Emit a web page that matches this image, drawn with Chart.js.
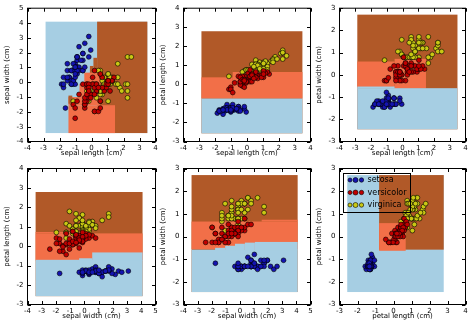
<!DOCTYPE html>
<html><head><meta charset="utf-8">
<script src="https://cdn.jsdelivr.net/npm/chart.js@4.4.0/dist/chart.umd.min.js"></script>
<style>
html,body{margin:0;padding:0;background:#fff;}
#wrap{position:relative;width:474px;height:326px;overflow:hidden;background:#fff;}
canvas{position:absolute;left:0;top:0;}
</style></head><body><div id="wrap"></div>
<script>
// ---- data (standardized iris measurements) ----
const classNames = ['setosa', 'versicolor', 'virginica'];
const featureNames = ['sepal length (cm)', 'sepal width (cm)', 'petal length (cm)', 'petal width (cm)'];

const setosaSL = [-0.90,-1.14,-1.39,-1.51,-1.02,-0.54,-1.51,-1.02,-1.75,-1.14,-0.54,-1.26,-1.26,-1.87,-0.05,-0.17,-0.54,-0.90,-0.17,-0.90,-0.54,-0.90,-1.51,-0.90,-1.26,-1.02,-1.02,-0.78,-0.78,-1.39,-1.26,-0.54,-0.78,-0.42,-1.14,-1.02,-0.42,-1.14,-1.75,-0.90,-1.02,-1.63,-1.75,-1.02,-0.90,-1.26,-0.90,-1.51,-0.66,-1.02];
const setosaSW = [1.02,-0.13,0.33,0.10,1.25,1.94,0.79,0.79,-0.36,0.10,1.48,0.79,-0.13,-0.13,2.17,3.09,1.94,1.02,1.71,1.71,0.79,1.48,1.25,0.56,0.79,-0.13,0.79,1.02,0.79,0.33,0.10,0.79,2.40,2.63,0.10,0.33,1.02,1.25,-0.13,0.79,1.02,-1.74,0.33,1.02,1.71,-0.13,1.71,0.33,1.48,0.56];
const setosaPL = [-1.34,-1.34,-1.40,-1.28,-1.34,-1.17,-1.34,-1.28,-1.34,-1.28,-1.28,-1.23,-1.34,-1.51,-1.45,-1.28,-1.40,-1.34,-1.17,-1.28,-1.17,-1.28,-1.57,-1.17,-1.06,-1.23,-1.23,-1.28,-1.34,-1.23,-1.23,-1.28,-1.28,-1.34,-1.28,-1.45,-1.40,-1.34,-1.40,-1.28,-1.40,-1.40,-1.40,-1.23,-1.06,-1.34,-1.23,-1.34,-1.28,-1.34];
const setosaPW = [-1.32,-1.32,-1.32,-1.32,-1.32,-1.05,-1.18,-1.32,-1.32,-1.45,-1.32,-1.32,-1.45,-1.45,-1.32,-1.05,-1.05,-1.18,-1.18,-1.18,-1.32,-1.05,-1.32,-0.92,-1.32,-1.32,-1.05,-1.32,-1.32,-1.32,-1.32,-1.05,-1.45,-1.32,-1.32,-1.32,-1.32,-1.45,-1.32,-1.32,-1.18,-1.18,-1.32,-0.79,-1.05,-1.18,-1.32,-1.32,-1.32,-1.32];

const versicolorSL = [1.40,0.67,1.28,-0.42,0.80,-0.17,0.55,-1.14,0.92,-0.78,-1.02,0.07,0.19,0.31,-0.29,1.04,-0.29,-0.05,0.43,-0.29,0.07,0.31,0.55,0.31,0.67,0.92,1.16,1.04,0.19,-0.17,-0.42,-0.42,-0.05,0.19,-0.54,0.19,1.04,0.55,-0.29,-0.42,-0.42,0.31,-0.05,-1.02,-0.29,-0.17,-0.17,0.43,-0.90,-0.17];
const versicolorSW = [0.33,0.33,0.10,-1.74,-0.59,-0.59,0.56,-1.51,-0.36,-0.82,-2.43,-0.13,-1.97,-0.36,-0.36,0.10,-0.13,-0.82,-1.97,-1.28,0.33,-0.59,-1.28,-0.59,-0.36,-0.13,-0.59,-0.13,-0.36,-1.05,-1.51,-1.51,-0.82,-0.82,-0.13,0.79,0.10,-1.74,-0.13,-1.28,-1.05,-0.13,-1.05,-1.74,-0.82,-0.13,-0.36,-0.36,-1.28,-0.59];
const versicolorPL = [0.54,0.42,0.65,0.14,0.48,0.42,0.54,-0.26,0.48,0.08,-0.15,0.25,0.14,0.54,-0.09,0.37,0.42,0.19,0.42,0.08,0.59,0.14,0.65,0.54,0.31,0.37,0.59,0.71,0.42,-0.15,0.02,-0.03,0.08,0.76,0.42,0.42,0.54,0.37,0.19,0.14,0.37,0.48,0.14,-0.26,0.25,0.25,0.25,0.31,-0.43,0.19];
const versicolorPW = [0.26,0.40,0.40,0.13,0.40,0.13,0.53,-0.26,0.13,0.26,-0.26,0.40,-0.26,0.26,0.13,0.26,0.40,-0.26,0.40,-0.13,0.79,0.13,0.40,0.00,0.13,0.26,0.26,0.66,0.40,-0.26,-0.13,-0.26,0.00,0.53,0.40,0.53,0.40,0.13,0.13,0.13,0.00,0.26,0.00,-0.26,0.13,0.00,0.13,0.13,-0.13,0.13];

const virginicaSL = [0.55,-0.05,1.52,0.55,0.80,2.13,-1.14,1.77,1.04,1.64,0.80,0.67,1.16,-0.17,-0.05,0.67,0.80,2.25,2.25,0.19,1.28,-0.29,2.25,0.55,1.04,1.64,0.43,0.31,0.67,1.64,1.89,2.49,0.67,0.55,0.31,2.25,0.55,0.67,0.19,1.28,1.04,1.28,-0.05,1.16,1.04,1.04,0.55,0.80,0.43,0.07];
const virginicaSW = [0.56,-0.82,-0.13,-0.36,-0.13,-0.13,-1.28,-0.36,-1.28,1.25,0.33,-0.82,-0.13,-1.28,-0.59,0.33,-0.13,1.71,-1.05,-1.97,0.33,-0.59,-0.59,-0.82,0.56,0.33,-0.59,-0.13,-0.59,-0.13,-0.59,1.71,-0.59,-0.59,-1.05,-0.13,0.79,0.10,-0.13,0.10,0.10,0.10,-0.82,0.33,0.56,-0.13,-1.28,-0.13,0.79,-0.13];
const virginicaPL = [1.27,0.76,1.22,1.05,1.16,1.62,0.42,1.45,1.16,1.33,0.76,0.88,0.99,0.71,0.76,0.88,0.99,1.67,1.79,0.71,1.10,0.65,1.67,0.65,1.10,1.27,0.59,0.65,1.05,1.16,1.33,1.50,1.05,0.76,1.05,1.33,1.05,0.99,0.59,0.93,1.05,0.76,0.76,1.22,1.10,0.82,0.71,0.82,0.93,0.76];
const virginicaPW = [1.71,0.92,1.19,0.79,1.32,1.19,0.66,0.79,0.79,1.71,1.05,0.92,1.19,1.05,1.58,1.45,0.79,1.32,1.45,0.40,1.45,1.05,1.05,0.79,1.19,0.79,0.79,0.79,1.19,0.53,0.92,1.05,1.32,0.40,0.26,1.45,1.58,0.79,0.79,1.19,1.58,1.45,0.92,1.45,1.71,1.45,0.92,1.05,1.45,0.79];

// feature pairs shown in the six panels (x feature, y feature)
const featurePairs = [[0,1],[0,2],[0,3],[1,2],[1,3],[2,3]];
// axis limits (tick labels are the integers between them)
const xLimits = [[-4,4],[-4,4],[-4,4],[-4,5],[-4,5],[-3,4]];
const yLimits = [[-4,5],[-3,4],[-3,3],[-3,4],[-3,3],[-3,3]];

// decision regions: [x0, x1, y0, y1, class], painted in order
const regions1 = [
  [-2.87,3.49,-3.43,4.09,0],
  [0.35,3.49,-3.43,4.09,2],
  [0.12,0.35,0.6,1.65,2],
  [-0.1,0.12,0.6,1.1,2],
  [-0.45,0.55,-0.1,0.65,1],
  [-0.75,0.55,-1.0,-0.1,1],
  [-1.44,0.55,-1.55,-1.0,1],
  [-1.44,1.47,-3.43,-1.55,1],
  [-1.44,-1.2,-1.45,-0.9,2]
];
const regions2 = [
  [-2.87,3.49,-2.57,2.79,2],
  [-2.87,-0.9,-0.743,0.37,1],
  [-0.9,3.49,-0.743,0.65,1],
  [-2.87,3.49,-2.57,-0.743,0]
];
const regions3 = [
  [-2.87,3.49,-2.45,2.71,2],
  [-2.87,-0.5,-0.55,0.6,1],
  [-0.5,1.49,-0.62,0.72,1],
  [-2.87,3.49,-2.45,-0.6,0],
  [-2.87,-0.5,-0.62,-0.526,0]
];
const regions4 = [
  [-3.43,4.09,-2.57,2.79,2],
  [-3.43,4.09,-0.743,0.66,1],
  [-3.43,0.5,0.66,0.73,1],
  [-3.43,4.09,-2.57,-0.70,0],
  [-0.37,0.55,-0.75,-0.62,0],
  [0.55,4.09,-0.75,-0.32,0]
];
const regions5 = [
  [-3.43,4.09,-2.45,2.71,2],
  [-3.43,4.09,-0.56,0.66,1],
  [1.54,4.09,0.66,0.74,1],
  [-3.43,4.09,-2.45,-0.58,0],
  [-1.76,-1.05,-0.6,-0.5,0],
  [-1.05,-0.35,-0.6,-0.41,0],
  [-0.35,0.35,-0.6,-0.32,0],
  [0.35,1.06,-0.6,-0.27,0],
  [1.06,4.09,-0.6,-0.24,0]
];
const regions6 = [
  [-2.57,2.79,-2.45,2.71,0],
  [-0.8,2.79,-0.58,2.71,2],
  [-0.8,0.678,-0.63,0.59,1]
];

// ---- styling / layout ----
const regionColors = ['#a6cee3', '#f26f48', '#b15928'];
const pointColors = ['#1414b0', '#c00000', '#c8c814'];
const W = 474, H = 326;
const colLR = [[27.5,155.5],[183.5,310.5],[339.5,465.5]];
const rowTB = [[6.5,141.5],[168.5,304.5]];
const YW = 24, XH = 16;
const FONT = "'DejaVu Sans', sans-serif";
const FS = 7;

const features = [
  [setosaSL, versicolorSL, virginicaSL],
  [setosaSW, versicolorSW, virginicaSW],
  [setosaPL, versicolorPL, virginicaPL],
  [setosaPW, versicolorPW, virginicaPW]
];
const allRegions = [regions1, regions2, regions3, regions4, regions5, regions6];

const regionPlugin = {
  id: 'regions',
  beforeDatasetsDraw(chart) {
    const regs = chart.options.plugins.regions.list;
    const {ctx, chartArea: a, scales: {x, y}} = chart;
    ctx.save();
    ctx.beginPath(); ctx.rect(a.left, a.top, a.right - a.left, a.bottom - a.top); ctx.clip();
    regs.forEach(r => {
      const x0 = x.getPixelForValue(r[0]), x1 = x.getPixelForValue(r[1]);
      const y0 = y.getPixelForValue(r[2]), y1 = y.getPixelForValue(r[3]);
      ctx.fillStyle = regionColors[r[4]];
      ctx.fillRect(Math.min(x0,x1), Math.min(y0,y1), Math.abs(x1-x0), Math.abs(y1-y0));
    });
    ctx.restore();
  }
};

const framePlugin = {
  id: 'frame',
  afterDatasetsDraw(chart) {
    const {ctx, chartArea: a, scales: {x, y}} = chart;
    ctx.save();
    ctx.strokeStyle = '#000';
    ctx.lineWidth = 1;
    const tl = 3.5;
    ctx.beginPath();
    x.ticks.forEach(t => {
      const p = Math.round(x.getPixelForValue(t.value)) + 0.5;
      ctx.moveTo(p, a.bottom); ctx.lineTo(p, a.bottom - tl);
      ctx.moveTo(p, a.top); ctx.lineTo(p, a.top + tl);
    });
    y.ticks.forEach(t => {
      const p = Math.round(y.getPixelForValue(t.value)) + 0.5;
      ctx.moveTo(a.left, p); ctx.lineTo(a.left + tl, p);
      ctx.moveTo(a.right, p); ctx.lineTo(a.right - tl, p);
    });
    ctx.stroke();
    ctx.strokeRect(a.left, a.top, a.right - a.left, a.bottom - a.top);
    ctx.restore();
  }
};

const legendPlugin = {
  id: 'scatterLegend',
  afterDraw(chart) {
    if (!chart.options.plugins.scatterLegend.show) return;
    const {ctx, chartArea: a} = chart;
    const bx = a.left + 3, by = a.top + 4.5, bw = 67, bh = 39;
    ctx.save();
    ctx.strokeStyle = '#000'; ctx.lineWidth = 1;
    ctx.strokeRect(Math.round(bx) + 0.5, Math.round(by) + 0.5, bw, bh);
    const sizes = [2.0, 2.5, 2.2];
    const offs = [7.5, 13, 19];
    classNames.forEach((name, k) => {
      const cy = by + 7 + k * 12.5;
      offs.forEach((ox, j) => {
        ctx.beginPath();
        ctx.arc(bx + ox, cy, sizes[j], 0, Math.PI * 2);
        ctx.fillStyle = pointColors[k]; ctx.fill();
        ctx.lineWidth = 0.6; ctx.strokeStyle = '#000'; ctx.stroke();
      });
      ctx.fillStyle = '#000';
      ctx.font = "8px " + FONT;
      ctx.textBaseline = 'middle'; ctx.textAlign = 'left';
      ctx.fillText(name, bx + 25, cy);
    });
    ctx.restore();
  }
};

const wrap = document.getElementById('wrap');
featurePairs.forEach((pair, idx) => {
  const col = idx % 3, row = Math.floor(idx / 3);
  const [L, R] = colLR[col], [T, B] = rowTB[row];
  const cv = document.createElement('canvas');
  cv.width = W; cv.height = H;
  cv.style.width = W + 'px'; cv.style.height = H + 'px';
  wrap.appendChild(cv);
  const xs = features[pair[0]], ys = features[pair[1]];
  const datasets = classNames.map((name, k) => ({
    label: name,
    data: xs[k].map((v, i) => ({x: v, y: ys[k][i]})),
    backgroundColor: pointColors[k],
    borderColor: '#000',
    borderWidth: 0.6,
    pointRadius: 2.4,
    pointHoverRadius: 2.4
  }));
  const tickFont = {family: FONT, size: FS};
  new Chart(cv, {
    type: 'scatter',
    data: {datasets},
    options: {
      responsive: false, animation: false, events: [], devicePixelRatio: 1,
      layout: {padding: {left: L - YW, top: T, right: W - R, bottom: H - B - XH}},
      plugins: {
        legend: {display: false}, tooltip: {enabled: false},
        regions: {list: allRegions[idx]},
        scatterLegend: {show: idx === 5}
      },
      scales: {
        x: {
          type: 'linear', min: xLimits[idx][0], max: xLimits[idx][1],
          afterFit: s => { s.height = XH; },
          grid: {display: false, drawTicks: false, tickLength: 0},
          border: {display: false},
          ticks: {stepSize: 1, autoSkip: false, maxRotation: 0, padding: 2.5, color: '#000', font: tickFont},
          title: {display: true, text: featureNames[pair[0]], color: '#000', font: {family: FONT, size: FS, lineHeight: 1}, padding: {top: 0, bottom: 1.2}}
        },
        y: {
          type: 'linear', min: yLimits[idx][0], max: yLimits[idx][1],
          afterFit: s => { s.width = YW; },
          grid: {display: false, drawTicks: false, tickLength: 0},
          border: {display: false},
          ticks: {stepSize: 1, autoSkip: false, padding: 4, color: '#000', font: tickFont},
          title: {display: true, text: featureNames[pair[1]], color: '#000', font: {family: FONT, size: FS, lineHeight: 1}, padding: {top: 0.5, bottom: 0}}
        }
      }
    },
    plugins: [regionPlugin, framePlugin, legendPlugin]
  });
});
</script></body></html>
